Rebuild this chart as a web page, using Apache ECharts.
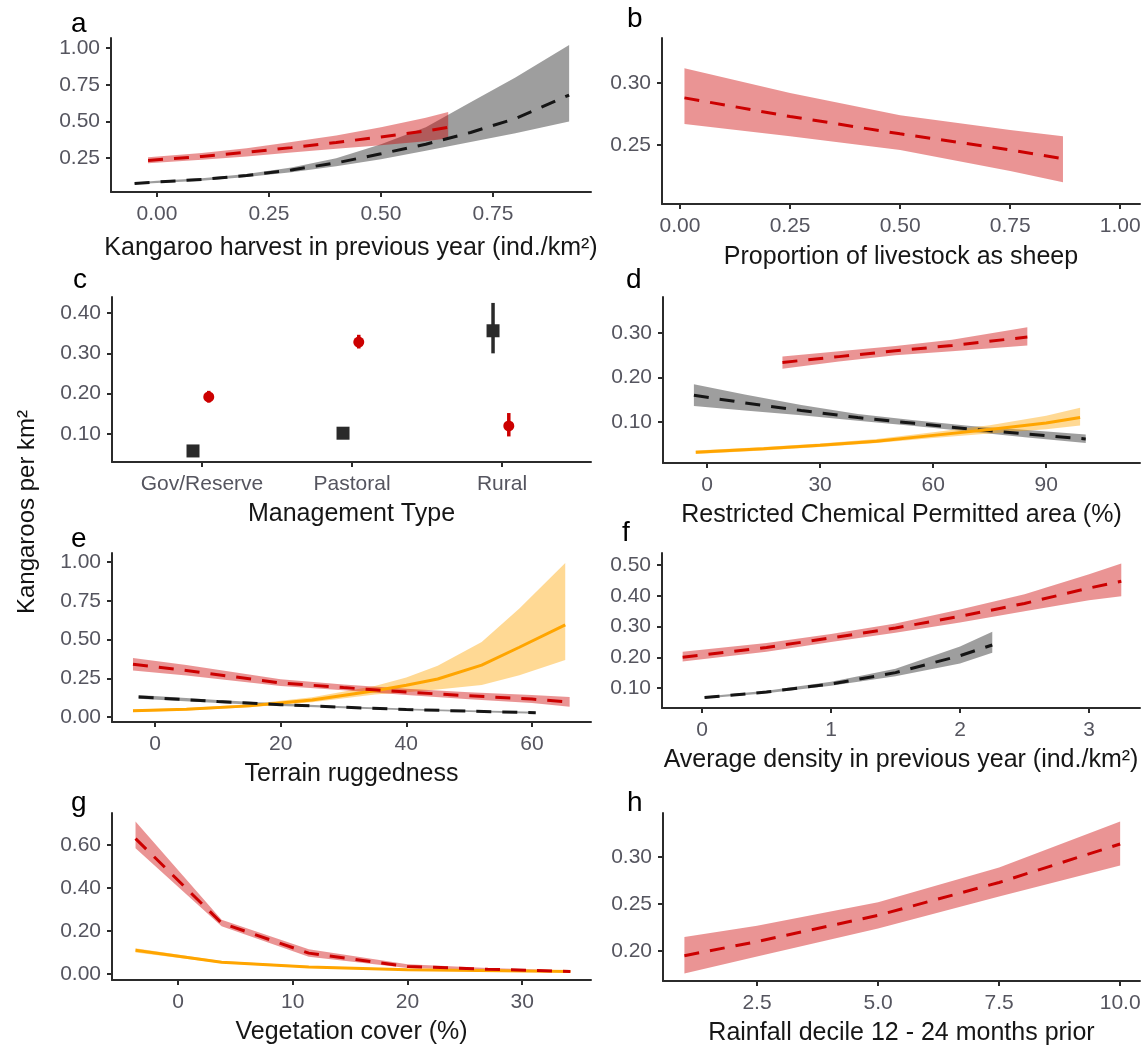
<!DOCTYPE html>
<html><head><meta charset="utf-8">
<script src="https://cdn.jsdelivr.net/npm/echarts@6/dist/echarts.min.js"></script>
<style>html,body{margin:0;padding:0;background:#fff}#c{width:1147px;height:1049px}</style>
</head><body><div id="c"></div>
<script>
// ---------- data ----------
// a: Kangaroo harvest in previous year
const aRedX  = [-0.02, 0.1, 0.2, 0.3, 0.4, 0.5, 0.6, 0.65];
const aRedY  = [0.235, 0.262, 0.29, 0.322, 0.357, 0.395, 0.435, 0.46];
const aRedLo = [0.215, 0.24, 0.262, 0.288, 0.315, 0.338, 0.365, 0.385];
const aRedHi = [0.257, 0.285, 0.318, 0.36, 0.405, 0.46, 0.525, 0.565];
const aBlkX  = [-0.05, 0, 0.1, 0.2, 0.3, 0.4, 0.5, 0.6, 0.7, 0.8, 0.92];
const aBlkY  = [0.078, 0.088, 0.105, 0.132, 0.17, 0.218, 0.28, 0.345, 0.425, 0.52, 0.68];
const aBlkLo = [0.072, 0.081, 0.097, 0.122, 0.155, 0.195, 0.243, 0.3, 0.36, 0.42, 0.50];
const aBlkHi = [0.085, 0.096, 0.113, 0.143, 0.187, 0.25, 0.345, 0.46, 0.63, 0.80, 1.02];
const aXTicks = [0, 0.25, 0.5, 0.75];
const aYTicks = [0.25, 0.5, 0.75, 1.0];
// b: Proportion of livestock as sheep
const bX  = [0.01, 0.25, 0.5, 0.75, 0.87];
const bY  = [0.288, 0.273, 0.259, 0.246, 0.239];
const bLo = [0.267, 0.257, 0.246, 0.229, 0.220];
const bHi = [0.312, 0.292, 0.274, 0.262, 0.257];
const bXTicks = [0, 0.25, 0.5, 0.75, 1.0];
const bYTicks = [0.25, 0.30];
// c: Management Type
const cCats  = ['Gov/Reserve', 'Pastoral', 'Rural'];
const cBlkY  = [0.058, 0.102, 0.356];
const cBlkLo = [0.053, 0.097, 0.300];
const cBlkHi = [0.063, 0.107, 0.425];
const cRedY  = [0.192, 0.328, 0.12];
const cRedLo = [0.178, 0.312, 0.094];
const cRedHi = [0.207, 0.346, 0.152];
const cYTicks = [0.1, 0.2, 0.3, 0.4];
// d: Restricted Chemical Permitted area (%)
const dRedX  = [20, 35, 50, 65, 85];
const dRedY  = [0.234, 0.247, 0.26, 0.272, 0.291];
const dRedLo = [0.22, 0.236, 0.25, 0.259, 0.272];
const dRedHi = [0.247, 0.259, 0.271, 0.285, 0.313];
const dBlkX  = [-3.5, 10, 25, 40, 55, 70, 85, 100.5];
const dBlkY  = [0.16, 0.143, 0.126, 0.11, 0.097, 0.084, 0.073, 0.062];
const dBlkLo = [0.136, 0.126, 0.115, 0.103, 0.091, 0.078, 0.065, 0.053];
const dBlkHi = [0.185, 0.162, 0.138, 0.118, 0.104, 0.091, 0.082, 0.072];
const dOrgX  = [-3, 15, 30, 45, 60, 75, 90, 99];
const dOrgY  = [0.032, 0.04, 0.048, 0.057, 0.07, 0.083, 0.098, 0.11];
const dOrgLo = [0.028, 0.036, 0.044, 0.053, 0.064, 0.074, 0.084, 0.092];
const dOrgHi = [0.036, 0.044, 0.052, 0.062, 0.077, 0.093, 0.114, 0.132];
const dXTicks = [0, 30, 60, 90];
const dYTicks = [0.1, 0.2, 0.3];
// e: Terrain ruggedness
const eOrgX  = [-3.5, 5, 15, 25, 35, 40, 45, 52, 58, 65.3];
const eOrgY  = [0.04, 0.05, 0.072, 0.11, 0.17, 0.205, 0.245, 0.335, 0.45, 0.595];
const eOrgLo = [0.032, 0.042, 0.063, 0.095, 0.145, 0.16, 0.178, 0.206, 0.27, 0.368];
const eOrgHi = [0.048, 0.058, 0.082, 0.127, 0.2, 0.255, 0.33, 0.484, 0.7, 0.994];
const eRedX  = [-3.5, 5, 20, 30, 40, 50, 60, 66];
const eRedY  = [0.34, 0.3, 0.22, 0.19, 0.161, 0.137, 0.116, 0.097];
const eRedLo = [0.3, 0.268, 0.2, 0.172, 0.142, 0.115, 0.09, 0.067];
const eRedHi = [0.38, 0.335, 0.243, 0.21, 0.182, 0.16, 0.142, 0.13];
const eBlkX  = [-2.6, 10, 20, 30, 40, 50, 60.6];
const eBlkY  = [0.13, 0.1, 0.08, 0.063, 0.049, 0.038, 0.028];
const eBlkLo = [0.118, 0.09, 0.072, 0.056, 0.043, 0.032, 0.022];
const eBlkHi = [0.142, 0.11, 0.088, 0.07, 0.055, 0.044, 0.034];
const eXTicks = [0, 20, 40, 60];
const eYTicks = [0, 0.25, 0.5, 0.75, 1.0];
// f: Average density in previous year
const fRedX  = [-0.15, 0.5, 1, 1.5, 2, 2.5, 3, 3.25];
const fRedY  = [0.2, 0.232, 0.263, 0.295, 0.333, 0.375, 0.425, 0.447];
const fRedLo = [0.186, 0.218, 0.25, 0.28, 0.313, 0.35, 0.385, 0.398];
const fRedHi = [0.218, 0.246, 0.276, 0.31, 0.355, 0.405, 0.47, 0.505];
const fBlkX  = [0.02, 0.5, 1, 1.5, 2, 2.25];
const fBlkY  = [0.069, 0.087, 0.113, 0.15, 0.205, 0.24];
const fBlkLo = [0.066, 0.083, 0.107, 0.138, 0.18, 0.215];
const fBlkHi = [0.072, 0.091, 0.12, 0.163, 0.235, 0.283];
const fXTicks = [0, 1, 2, 3];
const fYTicks = [0.1, 0.2, 0.3, 0.4, 0.5];
// g: Vegetation cover (%)
const gRedX  = [-3.7, 3.8, 11.4, 20, 27, 34.2];
const gRedY  = [0.63, 0.237, 0.097, 0.035, 0.022, 0.012];
const gRedLo = [0.585, 0.222, 0.08, 0.028, 0.017, 0.009];
const gRedHi = [0.71, 0.252, 0.115, 0.045, 0.028, 0.016];
const gOrgX  = [-3.7, 3.8, 11.4, 20, 34.2];
const gOrgY  = [0.11, 0.055, 0.033, 0.02, 0.012];
const gOrgLo = [0.1, 0.05, 0.029, 0.017, 0.009];
const gOrgHi = [0.12, 0.06, 0.037, 0.023, 0.015];
const gXTicks = [0, 10, 20, 30];
const gYTicks = [0, 0.2, 0.4, 0.6];
// h: Rainfall decile 12 - 24 months prior
const hX  = [1, 2.5, 5, 7.5, 10];
const hY  = [0.195, 0.21, 0.238, 0.273, 0.314];
const hLo = [0.176, 0.194, 0.224, 0.258, 0.291];
const hHi = [0.215, 0.227, 0.252, 0.289, 0.338];
const hXTicks = [2.5, 5, 7.5, 10];
const hYTicks = [0.2, 0.25, 0.3];

// ---------- styling ----------
const FONT = 'Liberation Sans, Arial, Helvetica, sans-serif';
const RED = '#CC0000', RED_FILL = 'rgba(204,0,0,0.42)';
const BLK = '#151515', GRAY_FILL = 'rgba(0,0,0,0.38)';
const ORG = '#FFA500', ORG_FILL = 'rgba(255,165,0,0.42)';
const AXC = '#2b2b2b', TICKC = '#55555f';
const DASH = [15, 11];

const grids = [
  {left: 111, top: 38,  width: 480, height: 154}, // a
  {left: 662, top: 38,  width: 478, height: 166}, // b
  {left: 112, top: 297, width: 479, height: 165}, // c
  {left: 663, top: 297, width: 477, height: 166}, // d
  {left: 112, top: 553, width: 479, height: 169}, // e
  {left: 662, top: 553, width: 478, height: 155}, // f
  {left: 112, top: 813, width: 479, height: 167}, // g
  {left: 663, top: 813, width: 477, height: 168}  // h
];

function xAx(i, min, max, ticks, fmt, name, gap) {
  return {
    gridIndex: i, type: 'value', min: min, max: max,
    axisLine: {show: true, onZero: false, lineStyle: {color: AXC, width: 2}},
    axisTick: {show: true, length: 5, customValues: ticks, lineStyle: {color: AXC, width: 2}},
    axisLabel: {customValues: ticks, formatter: fmt, color: TICKC, fontSize: 21, fontFamily: FONT, margin: 12, hideOverlap: false},
    splitLine: {show: false},
    name: name, nameLocation: 'middle', nameGap: gap,
    nameTextStyle: {fontSize: 25, color: '#161616', fontFamily: FONT}
  };
}
function yAx(i, min, max, ticks, fmt) {
  return {
    gridIndex: i, type: 'value', min: min, max: max,
    axisLine: {show: true, onZero: false, lineStyle: {color: AXC, width: 2}},
    axisTick: {show: true, length: 5, customValues: ticks, lineStyle: {color: AXC, width: 2}},
    axisLabel: {customValues: ticks, formatter: fmt, color: TICKC, fontSize: 21, fontFamily: FONT, margin: 11, hideOverlap: false},
    splitLine: {show: false}
  };
}
const f2 = v => Number(v).toFixed(2);
const f1 = v => Number(v).toFixed(1);
const f0 = v => String(Math.round(v));

function band(i, xs, lo, hi, fill) {
  return {
    type: 'custom', xAxisIndex: i, yAxisIndex: i, silent: true, z: 2,
    data: xs.map((x, k) => [x, lo[k], hi[k]]),
    encode: {x: 0, y: [1, 2]},
    renderItem: function (params, api) {
      if (params.dataIndex !== 0) return null;
      const pts = [];
      for (let k = 0; k < xs.length; k++) pts.push(api.coord([xs[k], hi[k]]));
      for (let k = xs.length - 1; k >= 0; k--) pts.push(api.coord([xs[k], lo[k]]));
      return {type: 'polygon', shape: {points: pts}, style: {fill: fill, stroke: null}};
    }
  };
}
function line(i, xs, ys, color, dashed) {
  return {
    type: 'line', xAxisIndex: i, yAxisIndex: i, silent: true, z: 3,
    data: xs.map((x, k) => [x, ys[k]]),
    symbol: 'none', showSymbol: false,
    lineStyle: {color: color, width: 3, type: dashed ? DASH : 'solid', cap: 'butt'}
  };
}
const DODGE_BLK = -0.06, DODGE_RED = 0.045;
function errbars(i, vals, lo, hi, dodge, color) {
  return {
    type: 'custom', xAxisIndex: i, yAxisIndex: i, silent: true, z: 4,
    data: vals.map((v, k) => [k + 1 + dodge, lo[k], hi[k]]),
    encode: {x: 0, y: [1, 2]},
    renderItem: function (params, api) {
      const p1 = api.coord([api.value(0), api.value(1)]);
      const p2 = api.coord([api.value(0), api.value(2)]);
      return {type: 'line', shape: {x1: p1[0], y1: p1[1], x2: p2[0], y2: p2[1]}, style: {stroke: color, lineWidth: 3.5}};
    }
  };
}

const xAxes = [
  xAx(0, -0.1027, 0.9688, aXTicks, f2, 'Kangaroo harvest in previous year (ind./km²)', 44),
  xAx(1, -0.041, 1.045, bXTicks, f2, 'Proportion of livestock as sheep', 41),
  xAx(2, 0.4, 3.593, [1, 2, 3], v => cCats[Math.round(v) - 1], 'Management Type', 40),
  xAx(3, -11.7, 114.9, dXTicks, f0, 'Restricted Chemical Permitted area (%)', 40),
  xAx(4, -6.84, 69.4, eXTicks, f0, 'Terrain ruggedness', 40),
  xAx(5, -0.31, 3.395, fXTicks, f0, 'Average density in previous year (ind./km²)', 40),
  xAx(6, -5.75, 36.0, gXTicks, f0, 'Vegetation cover (%)', 40),
  xAx(7, 0.558, 10.41, hXTicks, f1, 'Rainfall decile 12 - 24 months prior', 40)
];
const yAxes = [
  yAx(0, 0.02, 1.068, aYTicks, f2),
  yAx(1, 0.2024, 0.3363, bYTicks, f2),
  yAx(2, 0.0306, 0.4397, cYTicks, f2),
  yAx(3, 0.0079, 0.381, dYTicks, f2),
  yAx(4, -0.032, 1.058, eYTicks, f2),
  yAx(5, 0.035, 0.539, fYTicks, f2),
  yAx(6, -0.028, 0.749, gYTicks, f2),
  yAx(7, 0.168, 0.347, hYTicks, f2)
];

const series = [
  // a
  band(0, aBlkX, aBlkLo, aBlkHi, GRAY_FILL), line(0, aBlkX, aBlkY, BLK, true),
  band(0, aRedX, aRedLo, aRedHi, RED_FILL), line(0, aRedX, aRedY, RED, true),
  // b
  band(1, bX, bLo, bHi, RED_FILL), line(1, bX, bY, RED, true),
  // c
  errbars(2, cBlkY, cBlkLo, cBlkHi, DODGE_BLK, '#2a2a2a'),
  errbars(2, cRedY, cRedLo, cRedHi, DODGE_RED, RED),
  {type: 'scatter', xAxisIndex: 2, yAxisIndex: 2, silent: true, z: 5, symbol: 'rect', symbolSize: 13,
   data: cBlkY.map((v, k) => [k + 1 + DODGE_BLK, v]), itemStyle: {color: '#2a2a2a', opacity: 1}},
  {type: 'scatter', xAxisIndex: 2, yAxisIndex: 2, silent: true, z: 5, symbol: 'circle', symbolSize: 11,
   data: cRedY.map((v, k) => [k + 1 + DODGE_RED, v]), itemStyle: {color: RED, opacity: 1}},
  // d
  band(3, dRedX, dRedLo, dRedHi, RED_FILL), line(3, dRedX, dRedY, RED, true),
  band(3, dBlkX, dBlkLo, dBlkHi, GRAY_FILL), line(3, dBlkX, dBlkY, BLK, true),
  band(3, dOrgX, dOrgLo, dOrgHi, ORG_FILL), line(3, dOrgX, dOrgY, ORG, false),
  // e
  band(4, eOrgX, eOrgLo, eOrgHi, ORG_FILL), line(4, eOrgX, eOrgY, ORG, false),
  band(4, eRedX, eRedLo, eRedHi, RED_FILL), line(4, eRedX, eRedY, RED, true),
  band(4, eBlkX, eBlkLo, eBlkHi, GRAY_FILL), line(4, eBlkX, eBlkY, BLK, true),
  // f
  band(5, fRedX, fRedLo, fRedHi, RED_FILL), line(5, fRedX, fRedY, RED, true),
  band(5, fBlkX, fBlkLo, fBlkHi, GRAY_FILL), line(5, fBlkX, fBlkY, BLK, true),
  // g
  band(6, gOrgX, gOrgLo, gOrgHi, ORG_FILL), line(6, gOrgX, gOrgY, ORG, false),
  band(6, gRedX, gRedLo, gRedHi, RED_FILL), line(6, gRedX, gRedY, RED, true),
  // h
  band(7, hX, hLo, hHi, RED_FILL), line(7, hX, hY, RED, true)
];

const panelLabels = [
  ['a', 71, 32], ['b', 627, 27], ['c', 73, 288], ['d', 626, 288],
  ['e', 71, 547], ['f', 622, 541], ['g', 71, 811], ['h', 627, 811]
];
const graphics = panelLabels.map(p => ({
  type: 'text', x: p[1], y: p[2] + 6, silent: true,
  style: {text: p[0], fontSize: 28, fontFamily: FONT, fill: '#000', align: 'left', verticalAlign: 'bottom'}
}));
graphics.push({
  type: 'text', x: 27, y: 512, rotation: Math.PI / 2, silent: true,
  style: {text: 'Kangaroos per km²', fontSize: 24, fontFamily: FONT, fill: '#111', align: 'center', verticalAlign: 'middle'}
});

const chart = echarts.init(document.getElementById('c'), null, {renderer: 'canvas'});
chart.setOption({
  animation: false,
  backgroundColor: '#fff',
  grid: grids,
  xAxis: xAxes,
  yAxis: yAxes,
  series: series,
  graphic: graphics
});
</script>
</body></html>
